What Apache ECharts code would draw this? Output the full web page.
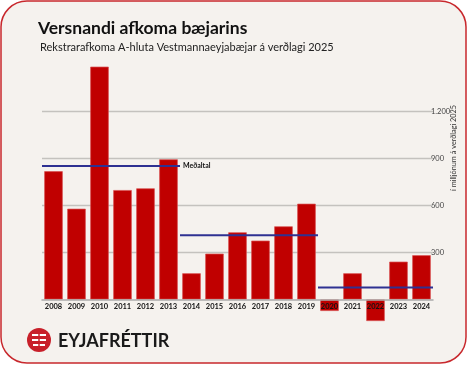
<!DOCTYPE html>
<html><head><meta charset="utf-8">
<script src="https://cdn.jsdelivr.net/npm/echarts@6/dist/echarts.min.js"></script>
<style>html,body{margin:0;padding:0;background:#fff;}#c{width:467px;height:368px;}</style>
</head><body><div id="c"></div>
<script>
const years = ['2008','2009','2010','2011','2012','2013','2014','2015','2016','2017','2018','2019','2020','2021','2022','2023','2024'];
const result = [817, 578, 1483, 697, 708, 893, 167, 292, 428, 375, 466, 610, -73, 167, -137, 241, 282];
const avgValues = [850, 409, 77];
const avgStart = ['2008', '2014', '2020'];
const avgEnd = ['2013', '2019', '2024'];
const yTicks = [300, 600, 900, 1200];
const titleText = 'Versnandi afkoma bæjarins';
const subtitleText = 'Rekstrarafkoma A-hluta Vestmannaeyjabæjar á verðlagi 2025';
const unitText = 'í milljónum á verðlagi 2025';
const avgLabel = 'Meðaltal';
const brand = 'EYJAFRÉTTIR';

const FONT = 'Lato, "Open Sans", sans-serif';
const chart = echarts.init(document.getElementById('c'), null, {renderer: 'canvas'});

const avgSeries = avgValues.map((v, i) => ({
  type: 'line', xAxisIndex: 1, yAxisIndex: 0, symbol: 'none', silent: true, z: 5, clip: false,
  lineStyle: {color: '#2e3192', width: 2},
  data: [[years.indexOf(avgStart[i]) - 0.5, v], [years.indexOf(avgEnd[i]) + 0.5, v]],
  endLabel: i === 0 ? {show: true, formatter: avgLabel, fontSize: 7, fontWeight: 'bold', color: '#111', fontFamily: FONT, distance: 3} : {show: false}
}));

chart.setOption({
  backgroundColor: '#ffffff',
  animation: false,
  graphic: [
    {type: 'rect', z: -10, silent: true, shape: {x: 1, y: 1, width: 465, height: 362, r: 26},
     style: {fill: '#f5f2ee', stroke: '#c8282d', lineWidth: 1.5}},
    {type: 'text', left: 38, top: 19, style: {text: titleText, font: 'bold 17.5px ' + FONT, fill: '#111'}},
    {type: 'text', left: 40, top: 42, style: {text: subtitleText, font: '11px ' + FONT, fill: '#222'}},
    {type: 'text', x: 454, y: 148, rotation: Math.PI / 2, style: {text: unitText, font: '7.3px ' + FONT, fill: '#333', align: 'center', verticalAlign: 'middle'}},
    {type: 'circle', shape: {cx: 39, cy: 340, r: 12}, style: {fill: '#c8202a'}},
    {type: 'group', children: [
      {type: 'line', shape: {x1: 32, y1: 335, x2: 46, y2: 335}, style: {stroke: '#fff', lineWidth: 2}},
      {type: 'line', shape: {x1: 32, y1: 340, x2: 46, y2: 340}, style: {stroke: '#fff', lineWidth: 2}},
      {type: 'line', shape: {x1: 33, y1: 345, x2: 45, y2: 345}, style: {stroke: '#fff', lineWidth: 2}},
      {type: 'line', shape: {x1: 39, y1: 333, x2: 39, y2: 347}, style: {stroke: '#c8202a', lineWidth: 1.5}}
    ]},
    {type: 'text', left: 58, top: 332, style: {text: brand, font: 'bold 18px ' + FONT, fill: '#1a1a1a'}}
  ],
  grid: {left: 42, right: 34, top: 64, bottom: 68.5, containLabel: false},
  xAxis: [
    {type: 'category', data: years, position: 'bottom',
     axisLine: {lineStyle: {color: '#aaa', width: 1.5}},
     axisTick: {show: false},
     axisLabel: {fontSize: 7.5, fontWeight: 'bold', color: '#111', fontFamily: FONT, margin: 3, interval: 0},
     splitLine: {show: false}, z: 10},
    {type: 'value', min: -0.5, max: years.length - 0.5, show: false, position: 'top'}
  ],
  yAxis: [{
    type: 'value', position: 'right', min: 0, max: 1500, interval: 300,
    axisLine: {show: false}, axisTick: {show: false},
    axisLabel: {fontSize: 7.5, color: '#444', fontFamily: FONT, margin: -2,
      formatter: v => yTicks.includes(v) ? v.toLocaleString('de-DE') : ''},
    splitLine: {show: false}
  }],
  series: [
    {type: 'bar', data: result, barWidth: 18.5, z: 3, clip: false,
     itemStyle: {color: '#c00000', borderColor: '#d85050', borderWidth: 0.7},
     markLine: {silent: true, symbol: 'none', label: {show: false}, z: 1,
       lineStyle: {color: '#c4c2be', width: 1.3, type: 'solid'},
       data: yTicks.map(v => ({yAxis: v}))}},
    ...avgSeries
  ]
});
</script></body></html>
